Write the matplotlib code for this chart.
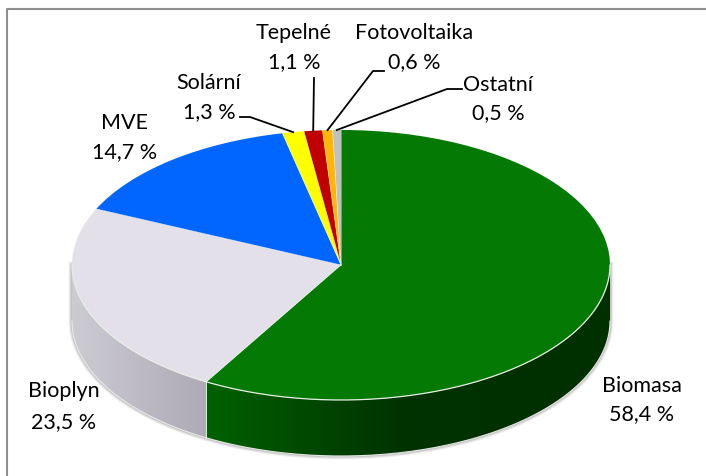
import numpy as np
import matplotlib
matplotlib.use("Agg")
import matplotlib.pyplot as plt
from matplotlib.colors import LinearSegmentedColormap
from matplotlib.lines import Line2D
from matplotlib.patches import Polygon

labels = ['Biomasa', 'Bioplyn', 'MVE', 'Solární', 'Tepelné', 'Fotovoltaika', 'Ostatní']
values = [58.4, 23.5, 14.7, 1.3, 1.1, 0.6, 0.5]
value_labels = ['58,4 %', '23,5 %', '14,7 %', '1,3 %', '1,1 %', '0,6 %', '0,5 %']
colors = ['#047a04', '#e3e0ea', '#0066ff', '#ffff00', '#c00000', '#ffb600', '#c0c0c0']

W, H = 706, 476
# pie ellipse in pixels
cx, cy, rx, ry = 341, 265, 269, 135
wall = 56
depth = wall / ry

plt.rcParams['font.family'] = ['Lato', 'DejaVu Sans']

fig = plt.figure(figsize=(W / 100, H / 100), dpi=100)

# only top and left frame lines are in the picture
fig.add_artist(Line2D([1, 6.5 / W, 6.5 / W], [1 - 9 / H, 1 - 9 / H, 0], color='#8f8f8f', lw=1.5,
                      transform=fig.transFigure))

ax = fig.add_axes([(cx - rx) / W, 1 - (cy + ry + wall) / H, 2 * rx / W, (2 * ry + wall) / H])
ax.axis('off')


def rim(a, b, drop=0.0):
    t = np.radians(np.linspace(a, b, 200))
    return np.sin(t), np.cos(t) - drop


# angles clockwise from the top
edges = np.cumsum([0] + values) / sum(values) * 360

# soft shadow around the wall
sx1, sy1 = rim(90, 270, depth)
sx = np.r_[1, sx1, -1]
sy = np.r_[0, sy1, 0]
for lw, a in [(5, 0.08), (3.5, 0.12), (2, 0.2)]:
    ax.plot(sx, sy, color='#555555', lw=lw, alpha=a, clip_on=False, zorder=1)

# side walls with gradient
green_side = LinearSegmentedColormap.from_list('g', [(0, '#006200'), (0.31, '#004200'), (0.5, '#003200'), (1, '#002f00')])
grey_side = LinearSegmentedColormap.from_list('b', ['#cdcbd2', '#aeaab6'])
walls = [(90, edges[1], green_side), (edges[1], 270, grey_side)]
for a, b, cmap in walls:
    x1, y1 = rim(a, b)
    x2, y2 = rim(b, a, depth)
    poly = Polygon(np.c_[np.r_[x1, x2], np.r_[y1, y2]], closed=True, fc='none', ec='none', transform=ax.transData)
    ax.add_patch(poly)
    left, right = min(x1.min(), x2.min()), max(x1.max(), x2.max())
    im = ax.imshow(np.linspace(0, 1, 256)[None, :], cmap=cmap, extent=(left, right, -1 - depth, 1),
                   aspect='auto', zorder=2)
    im.set_clip_path(poly)

# light line on the wall edges
bx, by = rim(90, 270, depth)
ax.plot(bx, by, color='#e8e8e8', lw=0.8, clip_on=False, zorder=3)
split = np.sin(np.radians(edges[1])), np.cos(np.radians(edges[1]))
ax.plot([split[0], split[0]], [split[1], split[1] - depth], color='#e8e8e8', lw=0.7, zorder=3, clip_on=False)

# top of the pie
wedges, _ = ax.pie(values, colors=colors, startangle=90, counterclock=False, radius=1, center=(0, 0),
                   wedgeprops=dict(ec='none', zorder=4), frame=False)
for w in wedges:
    w.set_clip_on(False)
ax.set_aspect('auto')
ax.set_xlim(-1, 1)
ax.set_ylim(-1 - depth, 1)

tx, ty = rim(90, 270)
ax.plot(tx, ty, color='#e6eee6', lw=0.9, clip_on=False, zorder=5)
# slice separators
for e in edges[:-1]:
    t = np.radians(e)
    ax.plot([0, np.sin(t)], [0, np.cos(t)], color='white', lw=0.5, alpha=0.55, clip_on=False, zorder=5)

# labels, pixel centre of the two lines
label_pos = [(642, 386, 414), (64, 391, 422), (125, 123, 152), (209, 83, 112),
             (294, 33, 62), (414, 33, 62), (498, 85, 113)]
for name, val, (x, y1, y2) in zip(labels, value_labels, label_pos):
    fig.text(x / W, 1 - y1 / H, name, ha='center', va='center', fontsize=15.5, color='black')
    fig.text(x / W, 1 - y2 / H, val, ha='center', va='center', fontsize=15.5, color='black')

# leader lines end on the middle of each small slice
mids = (edges[:-1] + edges[1:]) / 2
leaders = {3: [(240, 117), (250, 117)], 4: [(314, 78)], 5: [(384, 71), (373, 71)], 6: [(462, 89), (447, 89)]}
for i, pts in leaders.items():
    t = np.radians(mids[i])
    tip = (cx + rx * np.sin(t), cy - ry * np.cos(t))
    xs, ys = zip(*(pts + [tip]))
    fig.add_artist(Line2D(np.array(xs) / W, 1 - np.array(ys) / H, color='black', lw=1.3,
                          transform=fig.transFigure, zorder=6))

fig.savefig('out.png', dpi=100)
